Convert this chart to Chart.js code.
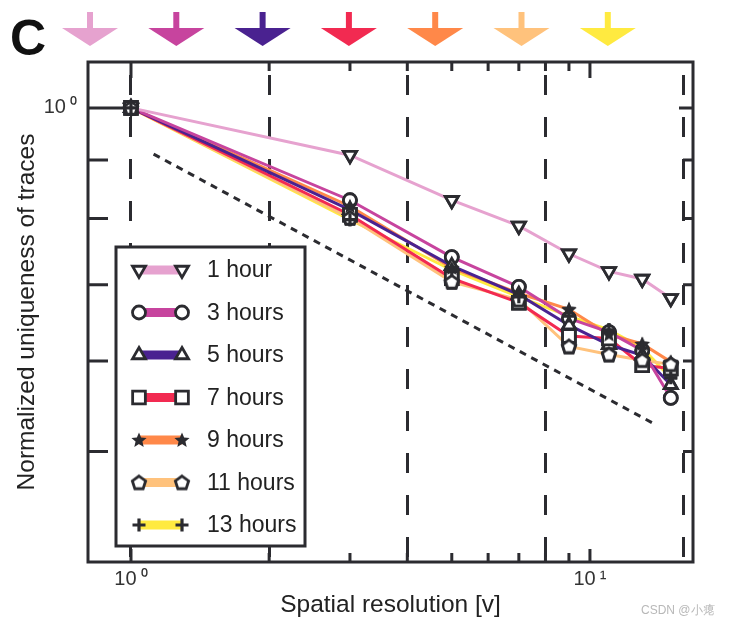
<!DOCTYPE html>
<html>
<head>
<meta charset="utf-8">
<script src="https://cdn.jsdelivr.net/npm/chart.js@4.4.0/dist/chart.umd.min.js"></script>
<style>
  html, body { margin: 0; padding: 0; background: #fff; }
  #wrap { position: relative; width: 731px; height: 626px; }
</style>
</head>
<body>
<div id="wrap"><canvas id="chart"></canvas></div>
<script>
// data
const resolutions = [1, 3, 5, 7, 9, 11, 13, 15];
const hour1  = [1, 0.909, 0.830, 0.788, 0.745, 0.719, 0.708, 0.681];
const hour3  = [1, 0.830, 0.740, 0.697, 0.654, 0.636, 0.613, 0.557];
const hour5  = [1, 0.814, 0.727, 0.686, 0.645, 0.620, 0.607, 0.572];
const hour7  = [1, 0.806, 0.709, 0.675, 0.631, 0.628, 0.595, 0.591];
const hour9  = [1, 0.820, 0.724, 0.688, 0.666, 0.633, 0.621, 0.599];
const hour11 = [1, 0.801, 0.704, 0.679, 0.618, 0.608, 0.601, 0.596];
const hour13 = [1, 0.798, 0.721, 0.683, 0.657, 0.639, 0.616, 0.580];
const seriesLabels = ['1 hour', '3 hours', '5 hours', '7 hours', '9 hours', '11 hours', '13 hours'];

// dotted guide line
const guideX = [1.12, 14.0];
const guideY = [0.911, 0.527];

// axes
const xTickValues = [1, 10];
const xTickLabels = ['10\u2009\u2070', '10\u2009\u00b9'];
const yTickValues = [1];
const yTickLabels = ['10\u2009\u2070'];
const xMinorTicks = [2, 3, 4, 5, 6, 7, 8, 9];
const yMinorTicks = [0.9, 0.8, 0.7, 0.6, 0.5];
const dashedGrid = [1, 2, 4, 8, 16];

const INK = '#2b2b30';
const FONT = '"Liberation Sans", Arial, Helvetica, sans-serif';
const colors = ['#e6a2cf', '#c7449e', '#4a2290', '#f22a51', '#ff8849', '#ffc27c', '#ffea40'];

// marker images for the star and pentagon
function makeMarker(kind) {
    const c = document.createElement('canvas');
    c.width = 22; c.height = 22;
    const g = c.getContext('2d');
    g.beginPath();
    if (kind === 'star') {
        for (let i = 0; i < 10; i++) {
            const r = i % 2 === 0 ? 8 : 3.6;
            const a = -Math.PI / 2 + i * Math.PI / 5;
            g.lineTo(11 + r * Math.cos(a), 11.5 + r * Math.sin(a));
        }
        g.closePath();
        g.fillStyle = INK;
        g.fill();
    } else {
        for (let i = 0; i < 5; i++) {
            const a = -Math.PI / 2 + i * 2 * Math.PI / 5;
            g.lineTo(11 + 7 * Math.cos(a), 11.6 + 7 * Math.sin(a));
        }
        g.closePath();
        g.fillStyle = '#fff';
        g.fill();
        g.lineWidth = 2.8;
        g.strokeStyle = INK;
        g.stroke();
    }
    return c;
}
const starImg = makeMarker('star');
const pentImg = makeMarker('pentagon');

const markers = [
    { style: 'triangle', rot: 180, r: 7.5 },
    { style: 'circle', rot: 0, r: 6.5 },
    { style: 'triangle', rot: 0, r: 7.5 },
    { style: 'rect', rot: 0, r: 9 },
    { style: starImg, rot: 0, r: 7 },
    { style: pentImg, rot: 0, r: 7 },
    { style: 'cross', rot: 0, r: 6.5 }
];

const allSeries = [hour1, hour3, hour5, hour7, hour9, hour11, hour13];

const datasets = allSeries.map(function (vals, i) {
    return {
        label: seriesLabels[i],
        data: resolutions.map((x, k) => ({ x: x, y: vals[k] })),
        borderColor: colors[i],
        borderWidth: 3,
        pointStyle: markers[i].style,
        pointRotation: markers[i].rot,
        pointRadius: markers[i].r,
        pointHoverRadius: markers[i].r,
        pointBackgroundColor: '#fff',
        pointBorderColor: INK,
        pointBorderWidth: markers[i].style === 'cross' ? 3.2 : 2.8,
        tension: 0
    };
});

datasets.push({
    label: 'guide',
    data: guideX.map((x, k) => ({ x: x, y: guideY[k] })),
    borderColor: INK,
    borderWidth: 3,
    borderDash: [7, 6],
    pointRadius: 0
});

// keep markers above every line
const pointsOnTop = {
    id: 'pointsOnTop',
    afterDatasetsDraw(chart) {
        const ctx = chart.ctx;
        for (let i = 0; i < allSeries.length; i++) {
            chart.getDatasetMeta(i).data.forEach(p => p.draw(ctx, chart.chartArea));
        }
    }
};

function drawMarker(ctx, i, x, y) {
    ctx.save();
    ctx.fillStyle = '#fff';
    ctx.strokeStyle = INK;
    ctx.lineWidth = markers[i].style === 'cross' ? 3.2 : 2.8;
    Chart.helpers.drawPoint(ctx, {
        pointStyle: markers[i].style,
        rotation: markers[i].rot,
        radius: markers[i].r,
        borderWidth: ctx.lineWidth
    }, x, y);
    ctx.restore();
}

const decorations = {
    id: 'decorations',
    afterDraw(chart) {
        const ctx = chart.ctx;
        const a = chart.chartArea;
        const xs = chart.scales.x, ys = chart.scales.y;

        // frame
        ctx.save();
        ctx.strokeStyle = INK;
        ctx.lineWidth = 3;
        ctx.strokeRect(a.left, a.top, a.right - a.left, a.bottom - a.top);

        // inward ticks
        ctx.beginPath();
        xTickValues.concat(xMinorTicks).forEach(function (v) {
            const px = xs.getPixelForValue(v);
            const major = xTickValues.indexOf(v) >= 0;
            ctx.moveTo(px, a.top); ctx.lineTo(px, a.top + (major ? 16 : 9));
            ctx.moveTo(px, a.bottom); ctx.lineTo(px, a.bottom - (major ? 13 : 9));
        });
        yTickValues.concat(yMinorTicks).forEach(function (v) {
            const py = ys.getPixelForValue(v);
            const major = yTickValues.indexOf(v) >= 0;
            ctx.moveTo(a.left, py); ctx.lineTo(a.left + (major ? 38 : 20), py);
            ctx.moveTo(a.right, py); ctx.lineTo(a.right - (major ? 14 : 10), py);
        });
        ctx.stroke();

        // legend box
        const lx = 116, ly = 247, lw = 189, lh = 299;
        ctx.fillStyle = '#fff';
        ctx.fillRect(lx, ly, lw, lh);
        ctx.strokeRect(lx, ly, lw, lh);
        ctx.font = '23px ' + FONT;
        ctx.textBaseline = 'middle';
        seriesLabels.forEach(function (lab, i) {
            const y = 270 + i * 42.5;
            ctx.strokeStyle = colors[i];
            ctx.lineWidth = 9;
            ctx.beginPath();
            ctx.moveTo(139, y); ctx.lineTo(182, y);
            ctx.stroke();
            drawMarker(ctx, i, 139, y);
            drawMarker(ctx, i, 182, y);
            ctx.fillStyle = '#222';
            ctx.fillText(lab, 207, y + 1);
        });

        // arrows above the plot
        colors.forEach(function (c, i) {
            const cx = 90 + i * 86.3;
            ctx.fillStyle = c;
            ctx.fillRect(cx - 3, 12, 6, 17);
            ctx.beginPath();
            ctx.moveTo(cx - 28, 28); ctx.lineTo(cx + 28, 28); ctx.lineTo(cx, 46);
            ctx.closePath();
            ctx.fill();
        });

        // panel letter
        ctx.fillStyle = '#111';
        ctx.font = 'bold 50px ' + FONT;
        ctx.textBaseline = 'alphabetic';
        ctx.fillText('C', 10, 55);

        // watermark
        ctx.fillStyle = '#b8b8b8';
        ctx.font = '12px ' + FONT;
        ctx.fillText('CSDN @\u5c0f\u762a', 641, 614);
        ctx.restore();
    }
};

new Chart(document.getElementById('chart'), {
    type: 'line',
    data: { datasets: datasets },
    plugins: [pointsOnTop, decorations],
    options: {
        responsive: true,
        maintainAspectRatio: false,
        animation: false,
        events: [],
        layout: { padding: { top: 62, right: 38, left: 0, bottom: 0 } },
        plugins: { legend: { display: false }, tooltip: { enabled: false } },
        scales: {
            x: {
                type: 'logarithmic',
                position: 'bottom',
                min: 0.806,
                max: 16.77,
                afterBuildTicks: s => { s.ticks = xTickValues.map(v => ({ value: v })); },
                afterFit: s => { s.height = 64; },
                ticks: {
                    autoSkip: false,
                    maxRotation: 0,
                    padding: -3,
                    color: '#333',
                    font: { family: FONT, size: 20 },
                    callback: v => xTickLabels[xTickValues.indexOf(v)]
                },
                grid: { display: false },
                border: { display: false },
                title: {
                    display: true,
                    text: 'Spatial resolution [v]',
                    color: '#222',
                    font: { family: FONT, size: 24.5 },
                    padding: { top: 0, bottom: 6 }
                }
            },
            xg: {
                type: 'logarithmic',
                position: 'top',
                min: 0.806,
                max: 16.77,
                afterBuildTicks: s => { s.ticks = dashedGrid.map(v => ({ value: v })); },
                afterFit: s => { s.height = 0; },
                ticks: { display: false },
                grid: { color: INK, lineWidth: 3, drawTicks: false },
                border: { display: false, dash: [20, 22], dashOffset: 29 }
            },
            y: {
                type: 'logarithmic',
                min: 0.40,
                max: 1.097,
                afterBuildTicks: s => { s.ticks = yTickValues.map(v => ({ value: v })); },
                afterFit: s => { s.width = 88; },
                ticks: {
                    padding: 3,
                    color: '#333',
                    font: { family: FONT, size: 20 },
                    callback: v => yTickLabels[yTickValues.indexOf(v)]
                },
                grid: { display: false },
                border: { display: false },
                title: {
                    display: true,
                    text: 'Normalized uniqueness of traces',
                    color: '#222',
                    font: { family: FONT, size: 24.5 },
                    padding: { top: 13, bottom: 0 }
                }
            }
        }
    }
});
</script>
</body>
</html>
